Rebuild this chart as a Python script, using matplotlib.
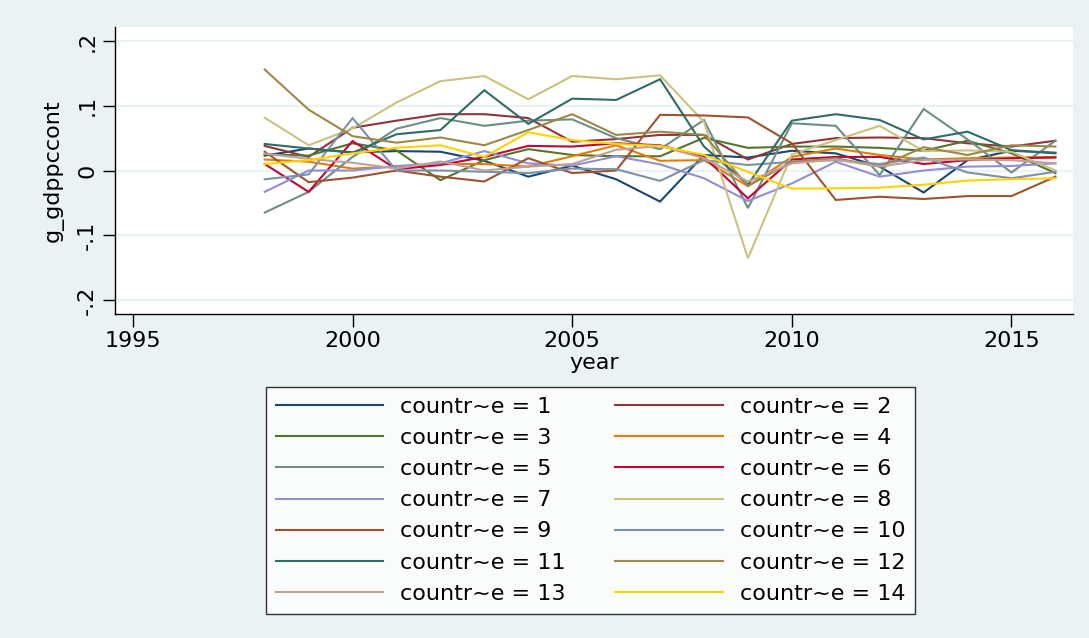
import numpy as np
import matplotlib
matplotlib.use("Agg")
import matplotlib.pyplot as plt

plt.rcParams['font.family'] = ['DejaVu Sans']

years = list(range(1998, 2017))

c1 = [0.023, 0.034, 0.028, 0.030, 0.029, 0.015, -0.0095, 0.0075, -0.0135, -0.048, 0.024, 0.020, 0.0305, 0.0265, 0.006, -0.034, 0.016, 0.0305, 0.0275]
c2 = [0.038, 0.021, 0.066, 0.077, 0.087, 0.087, 0.081, 0.0445, 0.0485, 0.055, 0.055, 0.017, 0.041, 0.050, 0.051, 0.050, 0.042, 0.037, 0.046]
c3 = [0.025, 0.023, 0.042, 0.031, -0.015, 0.016, 0.033, 0.024, 0.022, 0.022, 0.0505, 0.035, 0.037, 0.037, 0.035, 0.0305, 0.046, 0.0265, -0.004]
c4 = [0.017, 0.0136, 0.003, 0.006, 0.010, 0.010, 0.006, 0.022, 0.039, 0.015, 0.016, -0.024, 0.021, 0.034, 0.024, 0.017, 0.019, 0.020, 0.021]
c5 = [-0.065, -0.033, 0.021, 0.0645, 0.081, 0.069, 0.077, 0.079, 0.050, 0.033, 0.078, -0.058, 0.073, 0.069, -0.007, 0.095, 0.048, -0.003, 0.046]
c6 = [0.010, -0.033, 0.0455, 0.002, 0.0085, 0.021, 0.038, 0.037, 0.042, 0.039, 0.021, -0.043, 0.017, 0.021, 0.021, 0.010, 0.016, 0.019, 0.020]
c7 = [-0.033, 0.0, 0.0, 0.007, 0.011, 0.030, 0.011, 0.0075, 0.022, 0.0095, -0.012, -0.047, -0.020, 0.0135, -0.0095, 0.0, 0.006, 0.007, 0.011]
c8 = [0.0815, 0.039, 0.065, 0.105, 0.138, 0.146, 0.110, 0.146, 0.141, 0.147, 0.075, -0.1355, 0.025, 0.047, 0.069, 0.030, 0.031, 0.029, 0.0]
c9 = [0.029, -0.018, -0.011, 0.0, -0.0095, -0.017, 0.019, -0.004, 0.0, 0.086, 0.085, 0.082, 0.042, -0.0455, -0.0405, -0.044, -0.0395, -0.0395, -0.0095]
c10 = [-0.0136, -0.006, 0.081, 0.0, 0.0, -0.002, -0.004, 0.003, 0.002, -0.016, 0.016, 0.0085, 0.0135, 0.016, 0.010, 0.020, -0.003, -0.012, -0.002]
c11 = [0.041, 0.034, 0.0275, 0.056, 0.0625, 0.124, 0.072, 0.111, 0.109, 0.141, 0.037, -0.022, 0.077, 0.087, 0.078, 0.048, 0.060, 0.0315, 0.0265]
c12 = [0.156, 0.094, 0.053, 0.043, 0.051, 0.039, 0.0625, 0.087, 0.055, 0.060, 0.055, -0.024, 0.0135, 0.019, 0.006, 0.036, 0.024, 0.039, 0.037]
c13 = [0.026, 0.018, 0.012, 0.003, 0.014, 0.0, 0.006, 0.010, 0.032, 0.038, 0.019, -0.017, 0.011, 0.017, 0.006, 0.016, 0.017, 0.016, 0.011]
c14 = [0.010, 0.016, 0.0265, 0.035, 0.039, 0.021, 0.059, 0.047, 0.041, 0.038, 0.024, -0.002, -0.028, -0.0275, -0.0265, -0.022, -0.0155, -0.0135, -0.012]

series = [c1, c2, c3, c4, c5, c6, c7, c8, c9, c10, c11, c12, c13, c14]
labels = ["countr~e = %d" % (i + 1) for i in range(len(series))]

# stata s2color line colours
colors = ['#1a476f', '#90353b', '#55752f', '#e37e00', '#6e8e84', '#c10534', '#938dd2',
          '#cac27e', '#a0522d', '#7b92a8', '#2d6d66', '#9c8847', '#bfa19c', '#ffd200']

xticks = [1995, 2000, 2005, 2010, 2015]
yticks = [-0.2, -0.1, 0, 0.1, 0.2]
yticklabels = ['-.2', '-.1', '0', '.1', '.2']

bg = '#eaf2f3'
fs = 16
fig = plt.figure(figsize=(10.89, 6.38), dpi=100, facecolor=bg)
ax = fig.add_axes([0.1059, 0.508, 0.879, 0.45])
ax.set_facecolor('white')

handles = []
for y, col, lab in zip(series, colors, labels):
    h, = ax.plot(years, y, color=col, lw=1.5, label=lab, solid_joinstyle='miter')
    handles.append(h)

ax.set_xlim(1994.6, 2016.39)
ax.set_ylim(-0.2215, 0.222)
ax.set_xticks(xticks)
ax.set_yticks(yticks)
ax.set_yticklabels(yticklabels, rotation=90, va='center')
ax.grid(axis='y', color=bg, lw=1.6)
ax.set_axisbelow(True)
for s in ['top', 'right']:
    ax.spines[s].set_visible(False)
for s in ['left', 'bottom']:
    ax.spines[s].set_color('black')
    ax.spines[s].set_linewidth(1.0)
ax.tick_params(length=9, width=1.0, labelsize=fs, color='black', pad=3)
ax.tick_params(axis='y', pad=4)
ax.set_xlabel('year', fontsize=fs, labelpad=2)
ax.set_ylabel('g_gdppccont', fontsize=fs, labelpad=10)

# legend reads across rows: odd countries left column, even countries right
order = list(range(0, 14, 2)) + list(range(1, 14, 2))
leg = fig.legend([handles[i] for i in order], [labels[i] for i in order],
                 ncol=2, loc='upper left', bbox_to_anchor=(265.5 / 1089, 1 - 387 / 638),
                 fontsize=fs, frameon=True, fancybox=False, edgecolor='black',
                 handlelength=4.85, handletextpad=0.77, columnspacing=2.2,
                 labelspacing=0.5, borderpad=0.45, borderaxespad=0)
leg.get_frame().set_linewidth(1.0)

fig.savefig('out.png', dpi=100, facecolor=bg)
